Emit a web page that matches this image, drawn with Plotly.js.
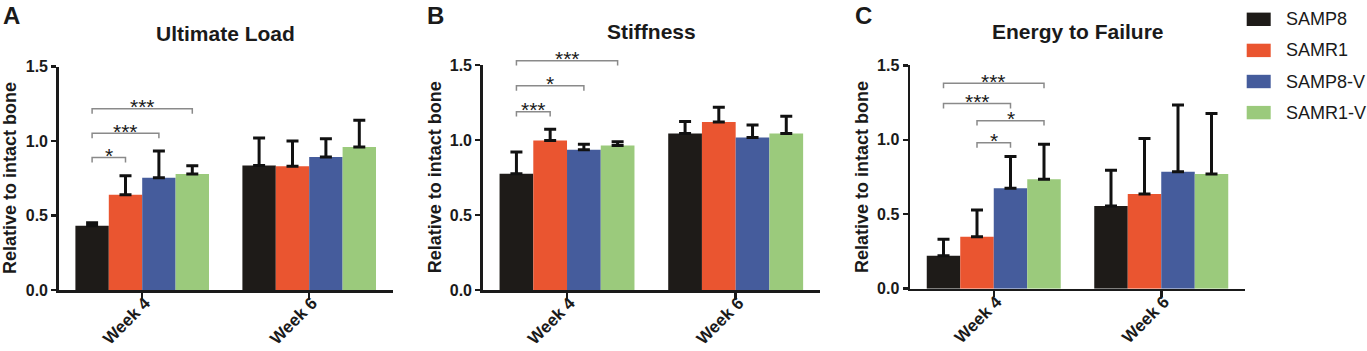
<!DOCTYPE html>
<html><head><meta charset="utf-8">
<script src="https://cdn.plot.ly/plotly-3.0.1.min.js"></script>
<style>html,body{margin:0;padding:0;background:#fff}</style>
</head><body>
<div id="chart" style="width:1367px;height:351px"></div>
<script>
const categories = ['Week 4', 'Week 6'];
const groups = ['SAMP8', 'SAMR1', 'SAMP8-V', 'SAMR1-V'];
const groupColors = ['#1e1b18', '#ea5530', '#455c9c', '#9bca7c'];
const panelTitles = ['Ultimate Load', 'Stiffness', 'Energy to Failure'];
const panelLetters = ['A', 'B', 'C'];
const yTitle = 'Relative to intact bone';
const yTickVals = [0, 0.5, 1.0, 1.5];
const yTickText = ['0.0', '0.5', '1.0', '1.5'];

// mean per group: [Week 4, Week 6]
const ultimateLoadMean = [[0.432, 0.837], [0.640, 0.831], [0.754, 0.893], [0.779, 0.960]];
const ultimateLoadSD   = [[0.020, 0.184], [0.128, 0.170], [0.180, 0.123], [0.056, 0.180]];
const stiffnessMean    = [[0.775, 1.044], [0.996, 1.120], [0.935, 1.016], [0.964, 1.044]];
const stiffnessSD      = [[0.145, 0.080], [0.075, 0.098], [0.036, 0.084], [0.025, 0.114]];
const energyMean       = [[0.222, 0.556], [0.349, 0.636], [0.674, 0.786], [0.735, 0.770]];
const energySD         = [[0.110, 0.239], [0.180, 0.372], [0.213, 0.448], [0.235, 0.406]];

// significance brackets (Week 4): [fromGroup, toGroup, level, label]
const ultimateLoadSig = [[0, 1, 0.89, '*'], [0, 2, 1.053, '***'], [0, 3, 1.217, '***']];
const stiffnessSig    = [[0, 1, 1.189, '***'], [0, 2, 1.362, '*'], [0, 3, 1.529, '***']];
const energySig       = [[1, 2, 0.98, '*'], [1, 3, 1.128, '*'], [0, 2, 1.243, '***'], [0, 3, 1.379, '***']];

const panelMeans = [ultimateLoadMean, stiffnessMean, energyMean];
const panelSDs = [ultimateLoadSD, stiffnessSD, energySD];
const panelSigs = [ultimateLoadSig, stiffnessSig, energySig];

const FONT = 'Liberation Sans, Arial, Helvetica, sans-serif';
const INK = '#1a1a1a';
const W = 1367, H = 351;
const xDomains = [[58.7 / W, 392.7 / W], [482.7 / W, 820 / W], [910 / W, 1245 / W]];
const yDomains = [[1 - 290 / H, 1 - 66.7 / H], [1 - 290 / H, 1 - 65 / H], [1 - 288.7 / H, 1 - 65.3 / H]];
const Y_MAX = 1.5;
const BARGAP = 0.2;

const traces = [];
const layout = {
  width: W, height: H, autosize: false,
  margin: {l: 0, r: 0, t: 0, b: 0},
  paper_bgcolor: '#fff', plot_bgcolor: '#fff',
  barmode: 'group', bargap: BARGAP, bargroupgap: 0,
  showlegend: false,
  font: {family: FONT, color: INK},
  shapes: [], annotations: []
};

panelTitles.forEach((title, p) => {
  const sfx = p === 0 ? '' : String(p + 1);
  const xa = 'x' + sfx, ya = 'y' + sfx;
  groups.forEach((g, gi) => {
    traces.push({
      type: 'bar', name: g, x: categories, y: panelMeans[p][gi],
      xaxis: xa, yaxis: ya,
      marker: {color: groupColors[gi], line: {width: 0}},
      error_y: {type: 'data', symmetric: false, array: panelSDs[p][gi],
        arrayminus: panelSDs[p][gi].map(() => 0), color: '#111', thickness: 3, width: 6},
      hoverinfo: 'skip', showlegend: false
    });
  });
  layout['xaxis' + sfx] = {
    domain: xDomains[p], anchor: ya, type: 'category', range: [-0.5, categories.length - 0.5],
    showline: true, linewidth: 2.5, linecolor: INK, ticks: 'outside', ticklen: 6, tickwidth: 2.5,
    tickcolor: INK, tickangle: -45, ticklabelstandoff: -12, ticklabelshift: 3,
    tickfont: {family: FONT, size: 17, weight: 'bold', color: INK},
    showgrid: false, zeroline: false, fixedrange: true
  };
  layout['yaxis' + sfx] = {
    domain: yDomains[p], anchor: xa, range: [0, Y_MAX], tickvals: yTickVals, ticktext: yTickText,
    showline: true, linewidth: 2.5, linecolor: INK, ticks: 'outside', ticklen: 5, tickwidth: 2.5,
    tickcolor: INK, tickfont: {family: FONT, size: 16, weight: 'bold', color: INK},
    showgrid: false, zeroline: false, fixedrange: true
  };
  const xd = xa + ' domain', yd = ya + ' domain';
  layout.annotations.push({xref: xd, yref: yd, x: 0.5, y: 1, yshift: 33.5, xanchor: 'center', yanchor: 'middle',
    text: title, showarrow: false, font: {family: FONT, size: 21, weight: 'bold', color: INK}});
  layout.annotations.push({xref: xd, yref: yd, x: 0, y: 0.5, xshift: -48, xanchor: 'center', yanchor: 'middle',
    textangle: -90, text: yTitle, showarrow: false, font: {family: FONT, size: 18, weight: 'bold', color: INK}});
  layout.annotations.push({xref: xd, yref: 'paper', x: 0, y: 1, xshift: -47, xanchor: 'center', yanchor: 'top',
    text: panelLetters[p], showarrow: false, font: {family: FONT, size: 24, weight: 'bold', color: INK}});
  const slot = 1 - BARGAP;
  const nG = groups.length;
  const barX = gi => ((0 + (gi - (nG - 1) / 2) * slot / nG) + 0.5) / categories.length;
  const drop = 0.033;
  panelSigs[p].forEach(([a, b, lvl, lab]) => {
    const x0 = barX(a), x1 = barX(b), yl = lvl / Y_MAX, yb = (lvl - drop) / Y_MAX;
    layout.shapes.push({type: 'path', xref: xd, yref: yd,
      path: `M${x0},${yb} L${x0},${yl} L${x1},${yl} L${x1},${yb}`,
      line: {color: '#8a8a8a', width: 1.5}});
    layout.annotations.push({xref: xd, yref: yd, x: (x0 + x1) / 2, y: yl, yshift: 2, xanchor: 'center', yanchor: 'middle',
      text: lab, showarrow: false, font: {family: FONT, size: 21, color: INK}});
  });
});

groups.forEach((g, gi) => {
  const cy = 19.3 + gi * 31.1;
  layout.shapes.push({type: 'rect', xref: 'paper', yref: 'paper',
    x0: 1246.7 / W, x1: 1270.7 / W, y0: 1 - (cy - 6.7) / H, y1: 1 - (cy + 6.7) / H,
    fillcolor: groupColors[gi], line: {width: 0}});
  layout.annotations.push({xref: 'paper', yref: 'paper', x: 1284 / W, y: 1 - cy / H, xanchor: 'left', yanchor: 'middle',
    text: g, showarrow: false, font: {family: FONT, size: 18, color: INK}});
});

Plotly.newPlot('chart', traces, layout, {displayModeBar: false, staticPlot: true});
</script>
</body></html>
